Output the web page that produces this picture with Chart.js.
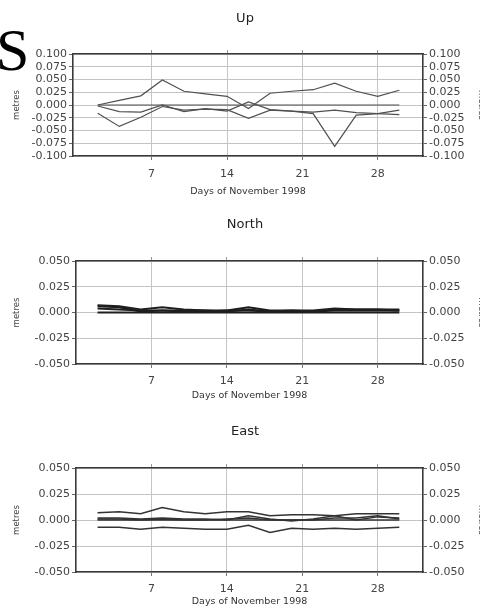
<!DOCTYPE html>
<html><head><meta charset="utf-8">
<script src="https://cdn.jsdelivr.net/npm/chart.js@4.4.1/dist/chart.umd.min.js"></script>
<style>
html,body{margin:0;padding:0;width:480px;height:611px;overflow:hidden;background:#fff;}
canvas{position:absolute;left:0;}
#bigS{position:absolute;left:-4px;top:20px;font-family:"Liberation Serif","DejaVu Serif",serif;font-size:60px;line-height:60px;color:#000;}
</style></head><body>
<div id="bigS">S</div>
<canvas id="cUp" width="490" height="200" style="top:0px"></canvas>
<canvas id="cNorth" width="490" height="205" style="top:200px"></canvas>
<canvas id="cEast" width="490" height="206" style="top:405px"></canvas>
<script>
// ---- data ----
const days = [2,4,6,8,10,12,14,16,18,20,22,24,26,28,30];
const dayTicks = [7,14,21,28];
const upTicks = [-0.1,-0.075,-0.05,-0.025,0,0.025,0.05,0.075,0.1];
const neTicks = [-0.05,-0.025,0,0.025,0.05];
const xTitle = 'Days of November 1998';
const yTitle = 'metres';

const upZero = [0,0,0,0,0,0,0,0,0,0,0,0,0,0,0];
const upA = [0.000,0.009,0.018,0.049,0.027,0.022,0.017,-0.007,0.023,0.027,0.030,0.043,0.027,0.017,0.029];
const upB = [-0.002,-0.013,-0.014,0.000,-0.013,-0.007,-0.012,0.006,-0.009,-0.012,-0.017,-0.081,-0.020,-0.017,-0.010];
const upC = [-0.016,-0.042,-0.024,-0.003,-0.010,-0.008,-0.009,-0.026,-0.010,-0.012,-0.014,-0.010,-0.015,-0.017,-0.019];

const nZero = [0,0,0,0,0,0,0,0,0,0,0,0,0,0,0];
const nA = [0.007,0.006,0.003,0.005,0.003,0.002,0.002,0.005,0.002,0.002,0.002,0.004,0.003,0.003,0.003];
const nB = [0.006,0.005,0.001,0.002,0.002,0.002,0.001,0.003,0.001,0.002,0.001,0.003,0.003,0.003,0.002];
const nC = [0.004,0.003,0.002,0.002,0.001,0.001,0.002,0.002,0.001,0.001,0.001,0.002,0.002,0.002,0.002];

const eZero = [0,0,0,0,0,0,0,0,0,0,0,0,0,0,0];
const eA = [0.007,0.008,0.006,0.012,0.008,0.006,0.008,0.008,0.004,0.005,0.005,0.004,0.006,0.006,0.006];
const eB = [0.002,0.002,0.001,0.002,0.001,0.001,0.000,0.004,0.001,-0.001,0.001,0.004,0.000,0.003,0.002];
const eC = [0.001,0.001,0.000,0.001,0.000,0.000,0.001,0.002,0.000,0.000,0.000,0.002,0.002,0.004,0.001];
const eD = [-0.007,-0.007,-0.009,-0.007,-0.008,-0.009,-0.009,-0.005,-0.012,-0.008,-0.009,-0.008,-0.009,-0.008,-0.007];

Chart.defaults.font.family = '"DejaVu Sans", "Liberation Sans", sans-serif';
Chart.defaults.animation = false;

function makePanel(id, title, series, yTicks, g, lineColor, lineWidth) {
  const W = 490;
  const titleLH = 13 * 1.2, xtLH = 9.5 * 1.2, ytLH = 8.5 * 1.2;
  const x2H = 5;
  const borderC = '#3a3a3a';
  const setTicks = arr => (s => { s.ticks = arr.map(v => ({value: v})); });
  const fmt = v => Number(v).toFixed(3);
  new Chart(document.getElementById(id), {
    type: 'line',
    data: {
      datasets: series.map(arr => ({
        data: days.map((d, i) => ({x: d, y: arr[i]})),
        borderColor: lineColor, borderWidth: lineWidth,
        pointRadius: 0, tension: 0, fill: false
      }))
    },
    options: {
      responsive: false,
      events: [],
      layout: {padding: 0},
      plugins: {
        legend: {display: false},
        tooltip: {enabled: false},
        title: {
          display: true, text: title, color: '#222',
          font: {size: 13, weight: 'normal'},
          padding: {top: g.titleY - titleLH / 2, bottom: (g.top - x2H) - (g.titleY + titleLH / 2)}
        }
      },
      scales: {
        x: {
          type: 'linear', position: 'bottom', min: g.xmin, max: g.xmax,
          afterBuildTicks: setTicks(dayTicks),
          afterFit: s => { s.height = g.H - g.bottom; },
          ticks: {autoSkip: false, color: '#444', font: {size: 11}, padding: g.tickPad, maxRotation: 0},
          grid: {color: '#c4c4c4', lineWidth: 1, tickLength: 4, tickColor: '#777'},
          border: {display: true, color: borderC, width: 1.6},
          title: {display: true, text: xTitle, color: '#333', font: {size: 9.5},
                  padding: {top: 0, bottom: g.H - g.xTitleY - xtLH / 2}}
        },
        x2: {
          type: 'linear', position: 'top', min: g.xmin, max: g.xmax,
          afterBuildTicks: setTicks(dayTicks),
          afterFit: s => { s.height = x2H; },
          ticks: {display: false},
          grid: {drawOnChartArea: false, tickLength: 4, tickColor: '#999'},
          border: {display: true, color: borderC, width: 1.6}
        },
        y: {
          type: 'linear', position: 'left', min: yTicks[0], max: yTicks[yTicks.length - 1],
          afterBuildTicks: setTicks(yTicks),
          afterFit: s => { s.width = g.left; },
          ticks: {autoSkip: false, color: '#444', font: {size: 11}, padding: 2, callback: fmt},
          grid: {color: '#c4c4c4', lineWidth: 1, tickLength: 4, tickColor: '#666'},
          border: {display: true, color: borderC, width: 1.6},
          title: {display: true, text: yTitle, color: '#444', font: {size: 8.5},
                  padding: {top: 17 - ytLH / 2, bottom: 0}}
        },
        y2: {
          type: 'linear', position: 'right', min: yTicks[0], max: yTicks[yTicks.length - 1],
          afterBuildTicks: setTicks(yTicks),
          afterFit: s => { s.width = W - g.right; },
          ticks: {autoSkip: false, color: '#444', font: {size: 11}, padding: 2, callback: fmt},
          grid: {drawOnChartArea: false, tickLength: 4, tickColor: '#666'},
          border: {display: true, color: borderC, width: 1.6},
          title: {display: true, text: yTitle, color: '#444', font: {size: 8.5},
                  padding: {top: (W - 481) - ytLH / 2, bottom: 0}}
        }
      }
    }
  });
}

makePanel('cUp', 'Up', [upZero, upA, upB, upC], upTicks,
  {H: 200, titleY: 19, top: 54, bottom: 156, xTitleY: 192, left: 73, right: 423, xmin: -0.3, xmax: 32.2, tickPad: 8},
  '#505050', 1.2);
makePanel('cNorth', 'North', [nZero, nA, nB, nC], neTicks,
  {H: 205, titleY: 25, top: 61, bottom: 164, xTitleY: 196, left: 76, right: 423, xmin: 0, xmax: 32.2, tickPad: 7},
  '#1e1e1e', 2);
makePanel('cEast', 'East', [eZero, eA, eB, eC, eD], neTicks,
  {H: 206, titleY: 27, top: 63, bottom: 167, xTitleY: 197, left: 76, right: 423, xmin: 0, xmax: 32.2, tickPad: 7},
  '#333', 1.5);
</script>
</body></html>
